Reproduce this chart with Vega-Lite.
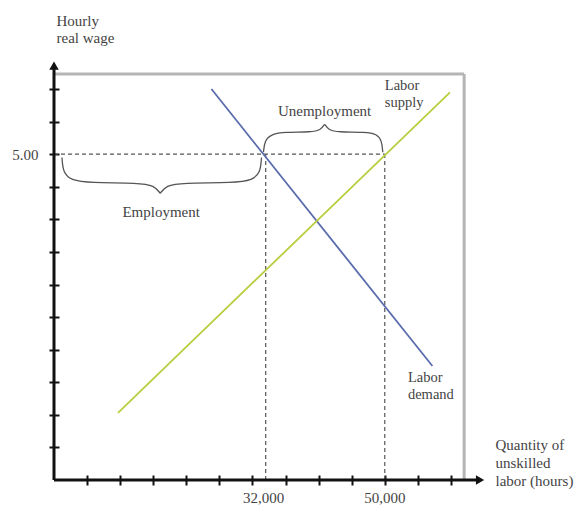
{
  "$schema": "https://vega.github.io/schema/vega-lite/v6.json",
  "width": 430,
  "height": 417,
  "autosize": {"type": "none"},
  "padding": {"left": 54, "top": 63, "right": 91, "bottom": 34},
  "background": "white",
  "config": {
    "view": {"stroke": null},
    "font": "Liberation Serif",
    "text": {"font": "Liberation Serif", "fontSize": 15, "color": "#444"}
  },
  "datasets": {
    "curves": [
      {"curve": "Labor demand", "q": 23.8, "w": 6.0},
      {"curve": "Labor demand", "q": 57.2, "w": 1.75},
      {"curve": "Labor supply", "q": 9.67, "w": 1.03},
      {"curve": "Labor supply", "q": 59.86, "w": 5.95}
    ],
    "braces": [
      {"b": "emp-left", "i": 0, "q": 1.21, "w": 4.95},
      {"b": "emp-left", "i": 1, "q": 1.36, "w": 4.72},
      {"b": "emp-left", "i": 2, "q": 2.58, "w": 4.6},
      {"b": "emp-left", "i": 3, "q": 5.3, "w": 4.56},
      {"b": "emp-left", "i": 4, "q": 12.88, "w": 4.56},
      {"b": "emp-left", "i": 5, "q": 15.15, "w": 4.52},
      {"b": "emp-left", "i": 6, "q": 16.06, "w": 4.4},
      {"b": "emp-right", "i": 0, "q": 16.06, "w": 4.4},
      {"b": "emp-right", "i": 1, "q": 16.97, "w": 4.52},
      {"b": "emp-right", "i": 2, "q": 19.24, "w": 4.56},
      {"b": "emp-right", "i": 3, "q": 27.27, "w": 4.56},
      {"b": "emp-right", "i": 4, "q": 30.0, "w": 4.6},
      {"b": "emp-right", "i": 5, "q": 31.21, "w": 4.72},
      {"b": "emp-right", "i": 6, "q": 31.36, "w": 4.95},
      {"b": "unemp-left", "i": 0, "q": 31.67, "w": 5.03},
      {"b": "unemp-left", "i": 1, "q": 31.82, "w": 5.21},
      {"b": "unemp-left", "i": 2, "q": 32.88, "w": 5.31},
      {"b": "unemp-left", "i": 3, "q": 34.85, "w": 5.34},
      {"b": "unemp-left", "i": 4, "q": 38.94, "w": 5.34},
      {"b": "unemp-left", "i": 5, "q": 40.3, "w": 5.37},
      {"b": "unemp-left", "i": 6, "q": 40.91, "w": 5.46},
      {"b": "unemp-right", "i": 0, "q": 40.91, "w": 5.46},
      {"b": "unemp-right", "i": 1, "q": 41.52, "w": 5.37},
      {"b": "unemp-right", "i": 2, "q": 42.88, "w": 5.34},
      {"b": "unemp-right", "i": 3, "q": 47.12, "w": 5.34},
      {"b": "unemp-right", "i": 4, "q": 48.79, "w": 5.31},
      {"b": "unemp-right", "i": 5, "q": 49.55, "w": 5.21},
      {"b": "unemp-right", "i": 6, "q": 49.7, "w": 5.03}
    ],
    "frame": [
      {"q": 0, "w": 6.23, "q2": 62.0, "w2": 6.23},
      {"q": 62.0, "w": 0, "q2": 62.0, "w2": 6.23}
    ],
    "dashes": [
      {"q": 0, "w": 5, "q2": 50, "w2": 5},
      {"q": 32, "w": 0, "q2": 32, "w2": 5},
      {"q": 50, "w": 0, "q2": 50, "w2": 5}
    ],
    "axislines": [
      {"q": 0, "w": 0, "q2": 64.3, "w2": 0},
      {"q": 0, "w": 0, "q2": 0, "w2": 6.33}
    ],
    "arrows": [
      {"dir": "right", "q": 64.4, "w": 0},
      {"dir": "up", "q": 0, "w": 6.36}
    ],
    "centerLabels": [
      {"label": "Employment", "q": 16.2, "w": 4.11},
      {"label": "Unemployment", "q": 40.9, "w": 5.67},
      {"label": "32,000", "q": 31.7, "w": -0.27},
      {"label": "50,000", "q": 50, "w": -0.27}
    ],
    "leftLabels": [
      {"label": "Labor", "q": 50.0, "w": 6.05},
      {"label": "supply", "q": 50.0, "w": 5.79},
      {"label": "Labor", "q": 53.5, "w": 1.56},
      {"label": "demand", "q": 53.5, "w": 1.3}
    ]
  },
  "encoding": {
    "x": {
      "field": "q",
      "type": "quantitative",
      "scale": {"domain": [0, 65], "nice": false, "zero": false},
      "axis": {
        "values": [5, 10, 15, 20, 25, 30, 35, 40, 45, 50, 55, 60],
        "labels": false,
        "domain": false,
        "grid": false,
        "offset": -5,
        "tickSize": 10,
        "tickWidth": 2,
        "tickColor": "#111",
        "title": ["Quantity of", "unskilled", "labor (hours)"],
        "titleFont": "Liberation Serif",
        "titleFontSize": 15,
        "titleFontWeight": "normal",
        "titleColor": "#444",
        "titleAngle": 0,
        "titleAlign": "left",
        "titleBaseline": "alphabetic",
        "titleLineHeight": 18,
        "titleX": 441,
        "titleY": -26
      }
    },
    "y": {
      "field": "w",
      "type": "quantitative",
      "scale": {"domain": [0, 6.4], "nice": false, "zero": false},
      "axis": {
        "values": [0.5, 1, 1.5, 2, 2.5, 3, 3.5, 4, 4.5, 5, 5.5, 6],
        "labelExpr": "datum.value == 5 ? '5.00' : ''",
        "labelFont": "Liberation Serif",
        "labelFontSize": 15,
        "labelColor": "#444",
        "labelPadding": 11,
        "domain": false,
        "grid": false,
        "offset": -5,
        "tickSize": 10,
        "tickWidth": 2,
        "tickColor": "#111",
        "title": ["Hourly", "real wage"],
        "titleFont": "Liberation Serif",
        "titleFontSize": 15,
        "titleFontWeight": "normal",
        "titleColor": "#444",
        "titleAngle": 0,
        "titleAlign": "left",
        "titleBaseline": "alphabetic",
        "titleLineHeight": 17,
        "titleX": -3,
        "titleY": -38
      }
    }
  },
  "layer": [
    {
      "data": {"name": "frame"},
      "mark": {"type": "rule", "color": "#b5b5b5", "strokeWidth": 3},
      "encoding": {"x2": {"field": "q2"}, "y2": {"field": "w2"}}
    },
    {
      "data": {"name": "dashes"},
      "mark": {"type": "rule", "color": "#555", "strokeWidth": 1.2, "strokeDash": [4, 3]},
      "encoding": {"x2": {"field": "q2"}, "y2": {"field": "w2"}}
    },
    {
      "data": {"name": "curves"},
      "mark": {"type": "line", "strokeWidth": 1.8},
      "encoding": {
        "detail": {"field": "curve"},
        "color": {
          "field": "curve",
          "type": "nominal",
          "scale": {"domain": ["Labor demand", "Labor supply"], "range": ["#5a6cae", "#b9cd3f"]},
          "legend": null
        }
      }
    },
    {
      "data": {"name": "braces"},
      "mark": {"type": "line", "interpolate": "basis", "color": "#555", "strokeWidth": 1.3},
      "encoding": {
        "detail": {"field": "b"},
        "order": {"field": "i", "type": "quantitative"}
      }
    },
    {
      "data": {"name": "axislines"},
      "mark": {"type": "rule", "color": "#111", "strokeWidth": 3},
      "encoding": {"x2": {"field": "q2"}, "y2": {"field": "w2"}}
    },
    {
      "data": {"name": "arrows"},
      "mark": {"type": "point", "filled": true, "color": "#111", "opacity": 1, "size": 90},
      "encoding": {
        "shape": {
          "field": "dir",
          "type": "nominal",
          "scale": {"domain": ["right", "up"], "range": ["triangle-right", "triangle-up"]},
          "legend": null
        }
      }
    },
    {
      "data": {"name": "centerLabels"},
      "mark": {"type": "text", "align": "center", "baseline": "middle"},
      "encoding": {"text": {"field": "label"}}
    },
    {
      "data": {"name": "leftLabels"},
      "mark": {"type": "text", "align": "left", "baseline": "middle", "fontSize": 14.5},
      "encoding": {"text": {"field": "label"}}
    }
  ]
}
